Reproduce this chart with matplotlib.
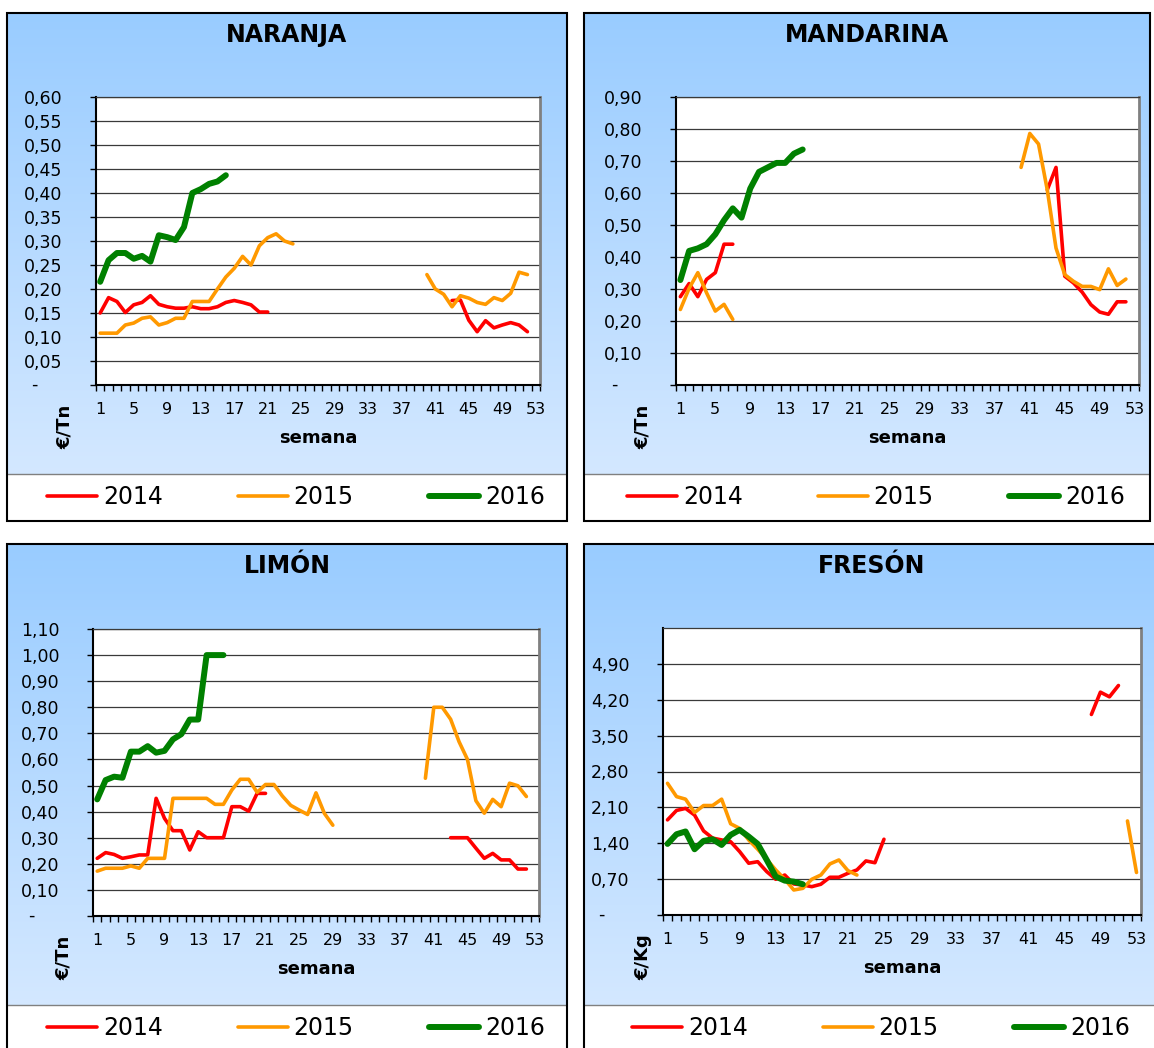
import numpy as np
import matplotlib
matplotlib.use("Agg")
import matplotlib.pyplot as plt
from matplotlib.lines import Line2D
from matplotlib.patches import Rectangle

plt.rcParams["font.family"] = ["DejaVu Sans"]

WEEKS = list(range(1, 54))
YEARS = ["2014", "2015", "2016"]

# each series: list of (first week, values) segments
NARANJA_2014 = [(1, [0.150, 0.182, 0.174, 0.151, 0.167, 0.172, 0.186, 0.168, 0.163, 0.160, 0.160,
                     0.163, 0.159, 0.159, 0.163, 0.172, 0.176, 0.172, 0.167, 0.152, 0.152]),
                (43, [0.176, 0.177, 0.135, 0.111, 0.134, 0.119, 0.125, 0.130, 0.125, 0.111])]
NARANJA_2015 = [(1, [0.108, 0.108, 0.108, 0.125, 0.129, 0.139, 0.142, 0.125, 0.130, 0.139, 0.139, 0.174,
                     0.174, 0.174, 0.200, 0.225, 0.243, 0.268, 0.250, 0.290, 0.307, 0.315, 0.300, 0.294]),
                (40, [0.230, 0.200, 0.189, 0.163, 0.186, 0.181, 0.172, 0.168, 0.182, 0.176, 0.191, 0.235, 0.230])]
NARANJA_2016 = [(1, [0.215, 0.260, 0.275, 0.275, 0.263, 0.269, 0.257, 0.312, 0.308, 0.302, 0.329, 0.400,
                     0.408, 0.419, 0.424, 0.437])]

MANDARINA_2014 = [(1, [0.276, 0.317, 0.276, 0.330, 0.351, 0.440, 0.440]),
                  (43, [0.610, 0.680, 0.340, 0.319, 0.290, 0.251, 0.228, 0.221, 0.260, 0.260])]
MANDARINA_2015 = [(1, [0.236, 0.302, 0.351, 0.288, 0.231, 0.252, 0.205]),
                  (40, [0.680, 0.786, 0.753, 0.610, 0.428, 0.345, 0.324, 0.308, 0.308, 0.298, 0.363, 0.311, 0.331])]
MANDARINA_2016 = [(1, [0.328, 0.419, 0.427, 0.440, 0.471, 0.515, 0.552, 0.523, 0.614, 0.666, 0.680, 0.694,
                       0.694, 0.723, 0.736])]

LIMON_2014 = [(1, [0.221, 0.243, 0.236, 0.221, 0.227, 0.234, 0.234, 0.451, 0.374, 0.327, 0.327, 0.253,
                   0.323, 0.300, 0.300, 0.300, 0.419, 0.419, 0.402, 0.470, 0.470]),
              (43, [0.300, 0.300, 0.300, 0.260, 0.221, 0.240, 0.215, 0.215, 0.180, 0.180])]
LIMON_2015 = [(1, [0.172, 0.183, 0.183, 0.183, 0.192, 0.183, 0.221, 0.221, 0.221, 0.451, 0.451, 0.451,
                   0.451, 0.451, 0.428, 0.428, 0.483, 0.524, 0.524, 0.474, 0.504, 0.504, 0.460, 0.424,
                   0.406, 0.389, 0.472, 0.393, 0.348]),
              (40, [0.528, 0.800, 0.800, 0.754, 0.668, 0.600, 0.442, 0.394, 0.447, 0.419, 0.509, 0.499, 0.458])]
LIMON_2016 = [(1, [0.447, 0.521, 0.534, 0.530, 0.630, 0.630, 0.651, 0.626, 0.633, 0.677, 0.697, 0.753,
                   0.753, 1.000, 1.000, 1.000])]

FRESON_2014 = [(1, [1.856, 2.040, 2.080, 1.950, 1.640, 1.500, 1.465, 1.430, 1.237, 1.010, 1.040, 0.847,
                    0.697, 0.780, 0.605, 0.586, 0.553, 0.600, 0.736, 0.736, 0.814, 0.879, 1.055, 1.020, 1.478]),
               (48, [3.913, 4.348, 4.257, 4.478])]
FRESON_2015 = [(1, [2.570, 2.310, 2.260, 2.000, 2.136, 2.136, 2.260, 1.780, 1.690, 1.465, 1.283, 1.087,
                    0.879, 0.697, 0.488, 0.520, 0.697, 0.780, 0.996, 1.074, 0.866, 0.780]),
               (52, [1.835, 0.830])]
FRESON_2016 = [(1, [1.387, 1.576, 1.630, 1.283, 1.446, 1.478, 1.367, 1.563, 1.660, 1.530, 1.387, 1.074,
                    0.749, 0.671, 0.651, 0.600])]

NARANJA_TICKS = [0.05 * i for i in range(13)]
MANDARINA_TICKS = [0.10 * i for i in range(10)]
LIMON_TICKS = [0.10 * i for i in range(12)]
FRESON_TICKS = [0.70 * i for i in range(8)]

COLORS = {"2014": "#FF0000", "2015": "#FF9900", "2016": "#008000"}
WIDTHS = {"2014": 2.6, "2015": 2.6, "2016": 4.3}

W, H = 1154, 1048


def rect(x0, y0, x1, y1):
    return [x0 / W, 1 - y1 / H, (x1 - x0) / W, (y1 - y0) / H]


def expand(segments):
    arr = np.full(len(WEEKS), np.nan)
    for start, vals in segments:
        arr[start - 1:start - 1 + len(vals)] = vals
    return arr


def fmt(v):
    return "" if abs(v) < 1e-9 else f"{v:.2f}".replace(".", ",")


PANELS = [
    ("NARANJA", (7, 13, 567, 521), (96, 97, 540, 385), 0.60, NARANJA_TICKS, "€/Tn", -31,
     [NARANJA_2014, NARANJA_2015, NARANJA_2016]),
    ("MANDARINA", (584, 13, 1150, 521), (676, 97, 1139, 385), 0.90, MANDARINA_TICKS, "€/Tn", -33,
     [MANDARINA_2014, MANDARINA_2015, MANDARINA_2016]),
    ("LIMÓN", (7, 544, 567, 1052), (93, 629, 539, 916), 1.10, LIMON_TICKS, "€/Tn", -29,
     [LIMON_2014, LIMON_2015, LIMON_2016]),
    ("FRESÓN", (584, 544, 1160, 1052), (663, 628, 1141, 915), 5.60, FRESON_TICKS, "€/Kg", -20,
     [FRESON_2014, FRESON_2015, FRESON_2016]),
]

fig = plt.figure(figsize=(W / 100, H / 100), dpi=100)

top_c = np.array([0.60, 0.80, 1.00])
bot_c = np.array([0.83, 0.91, 1.00])
grad = np.linspace(0, 1, 256)[:, None, None]
grad_img = top_c * (1 - grad) + bot_c * grad
grad_img = np.repeat(grad_img, 2, axis=1)

for title, box, plot, ymax, ticks, ylab, ylab_dx, series in PANELS:
    bx0, by0, bx1, by1 = box
    bg = fig.add_axes(rect(*box), zorder=0)
    bg.set_xlim(0, 1)
    bg.set_ylim(0, 1)
    bg.axis("off")
    leg_frac = 47 / (by1 - by0)
    bg.imshow(grad_img, extent=[0, 1, leg_frac, 1], aspect="auto", zorder=0)
    bg.add_patch(Rectangle((0, 0), 1, leg_frac, facecolor="white", edgecolor="none", zorder=1))
    bg.plot([0, 1], [leg_frac, leg_frac], color="#808080", lw=1.0, zorder=2)
    bg.add_patch(Rectangle((0, 0), 1, 1, facecolor="none", edgecolor="black", lw=1.5, zorder=3,
                           clip_on=False))
    bg.text(0.5, 1 - 22 / (by1 - by0), title, ha="center", va="center", fontsize=17,
            fontweight="bold", zorder=4)

    ax = fig.add_axes(rect(*plot), zorder=2)
    ax.set_facecolor("white")
    for year, seg in zip(YEARS, series):
        ax.plot(WEEKS, expand(seg), color=COLORS[year], lw=WIDTHS[year],
                solid_capstyle="round", solid_joinstyle="round", zorder=3)
    ax.set_xlim(0.5, 53.5)
    ax.set_ylim(0, ymax)
    ax.set_yticks(ticks)
    ax.set_yticklabels([fmt(t) for t in ticks])
    ax.set_xticks(WEEKS[::4])
    ax.set_xticks(np.arange(0.5, 54, 1.0), minor=True)
    ax.tick_params(axis="x", which="major", length=0, pad=12, labelsize=11.5)
    ax.tick_params(axis="x", which="minor", length=4, width=1.0, direction="out")
    ax.tick_params(axis="y", which="major", length=4, width=1.0, direction="out", pad=20,
                   labelsize=12.5)
    ax.yaxis.grid(True, color="#3a3a3a", lw=0.9)
    ax.set_axisbelow(True)
    for side in ("left", "bottom"):
        ax.spines[side].set_color("black")
        ax.spines[side].set_linewidth(1.5)
    ax.spines["top"].set_color("#3a3a3a")
    ax.spines["top"].set_linewidth(0.9)
    ax.spines["right"].set_color("#808080")
    ax.spines["right"].set_linewidth(2.0)

    ax.annotate("-", xy=(0, 0), xycoords=("axes fraction", "data"), xytext=(-62 * 0.72, 0),
                textcoords="offset points", ha="center", va="center", fontsize=12.5)
    ax.annotate("semana", xy=(0.5, 0), xycoords="axes fraction", xytext=(0, -53 * 0.72),
                textcoords="offset points", ha="center", va="center", fontsize=13, fontweight="bold")
    ax.annotate(ylab, xy=(0, 0), xycoords="axes fraction", xytext=(ylab_dx * 0.72, -42 * 0.72),
                textcoords="offset points", ha="center", va="center", fontsize=13,
                fontweight="bold", rotation=90)

    handles = [Line2D([], [], color=COLORS[y], lw=WIDTHS[y], solid_capstyle="round") for y in YEARS]
    leg_cx = ((bx0 + bx1) / 2 + 9) / W
    leg_cy = 1 - (by0 + 484) / H
    fig.legend(handles, YEARS, loc="center", bbox_to_anchor=(leg_cx, leg_cy), ncol=3, frameon=False,
               fontsize=17, handlelength=2.1, handletextpad=0.25, columnspacing=3.2)

fig.savefig("out.png", dpi=100)
